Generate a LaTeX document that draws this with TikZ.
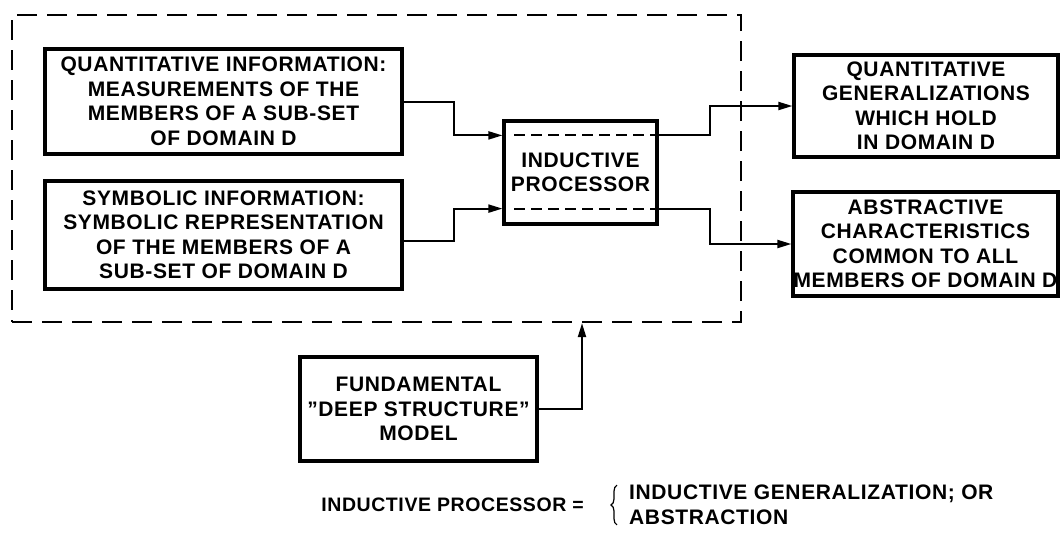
\documentclass[tikz,border=0pt]{standalone}
\usepackage{fontspec}
\setmainfont{Liberation Sans}[LetterSpace=3]
\usetikzlibrary{arrows.meta,decorations.pathreplacing}

\begin{document}
\begin{tikzpicture}[x=1pt,y=-1pt,
  txt/.style={font=\fontsize{21}{24.5}\selectfont\bfseries},
  smalltxt/.style={font=\fontsize{19.5}{22}\selectfont\bfseries},
  box/.style={txt,draw,line width=3.2pt,align=center,inner sep=0pt},
  conn/.style={line width=2pt,-{Triangle[length=14pt,width=8pt]}},
  frame/.style={draw,line width=2.2pt,dash pattern=on 20pt off 10pt},
  innerdash/.style={line width=2pt,dash pattern=on 11pt off 6pt},
  brc/.style={line width=1.2pt,decorate,decoration={brace,amplitude=6pt}}]
\useasboundingbox (0,0) rectangle (1060,539);

% dashed enclosure of the inputs and the processor
\node[frame,minimum width=729pt,minimum height=307pt] (encl) at (376.5,168.5) {};

% input boxes
\node[box,minimum width=357pt,minimum height=105pt] (quant) at (223.5,101.5)
  {QUANTITATIVE INFORMATION:\\MEASUREMENTS OF THE\\MEMBERS OF A SUB-SET\\OF DOMAIN D};
\node[box,minimum width=357pt,minimum height=108pt] (symb) at (223.5,235)
  {SYMBOLIC INFORMATION:\\SYMBOLIC REPRESENTATION\\OF THE MEMBERS OF A\\SUB-SET OF DOMAIN D};

% processor
\node[box,minimum width=153pt,minimum height=103pt] (proc) at (580.5,172.5)
  {INDUCTIVE\\PROCESSOR};
\coordinate (pin1) at ([yshift=-16pt]proc.north west);
\coordinate (pin2) at ([yshift=17pt]proc.south west);
\coordinate (pout1) at ([yshift=-16pt]proc.north east);
\coordinate (pout2) at ([yshift=17pt]proc.south east);
\draw[innerdash] ([xshift=12pt]pin1) -- (pout1);
\draw[innerdash] ([xshift=12pt]pin2) -- (pout2);

% outputs
\node[box,minimum width=264pt,minimum height=102pt] (qgen) at (926,106)
  {QUANTITATIVE\\GENERALIZATIONS\\WHICH HOLD\\IN DOMAIN D};
\node[box,minimum width=265pt,minimum height=104pt] (abst) at (925.5,244)
  {ABSTRACTIVE\\CHARACTERISTICS\\COMMON TO ALL\\MEMBERS OF DOMAIN D};

% model
\node[box,minimum width=237pt,minimum height=104pt] (model) at (418.5,409)
  {FUNDAMENTAL\\''DEEP STRUCTURE''\\MODEL};

% connectors
\draw[conn] (quant.east) -- ++(50,0) |- (pin1);
\draw[conn] ([yshift=-6pt]symb.east) -- ++(50,0) |- (pin2);
\draw[conn] (pout1) -- ++(51,0) |- (qgen.west);
\draw[conn] (pout2) -- ++(51,0) |- (abst.west);
\draw[conn] (model.east) -| ([xshift=205.5pt]encl.south);

% legend
\node[smalltxt,anchor=east,inner sep=0pt] (lhs) at (584,505) {INDUCTIVE PROCESSOR =};
\node[txt,anchor=west,align=left,inner sep=0pt] (rhs) at (629,505)
  {INDUCTIVE GENERALIZATION; OR\\ABSTRACTION};
\draw[brc] ([xshift=-12pt]rhs.south west) -- ([xshift=-12pt]rhs.north west);
\end{tikzpicture}
\end{document}
